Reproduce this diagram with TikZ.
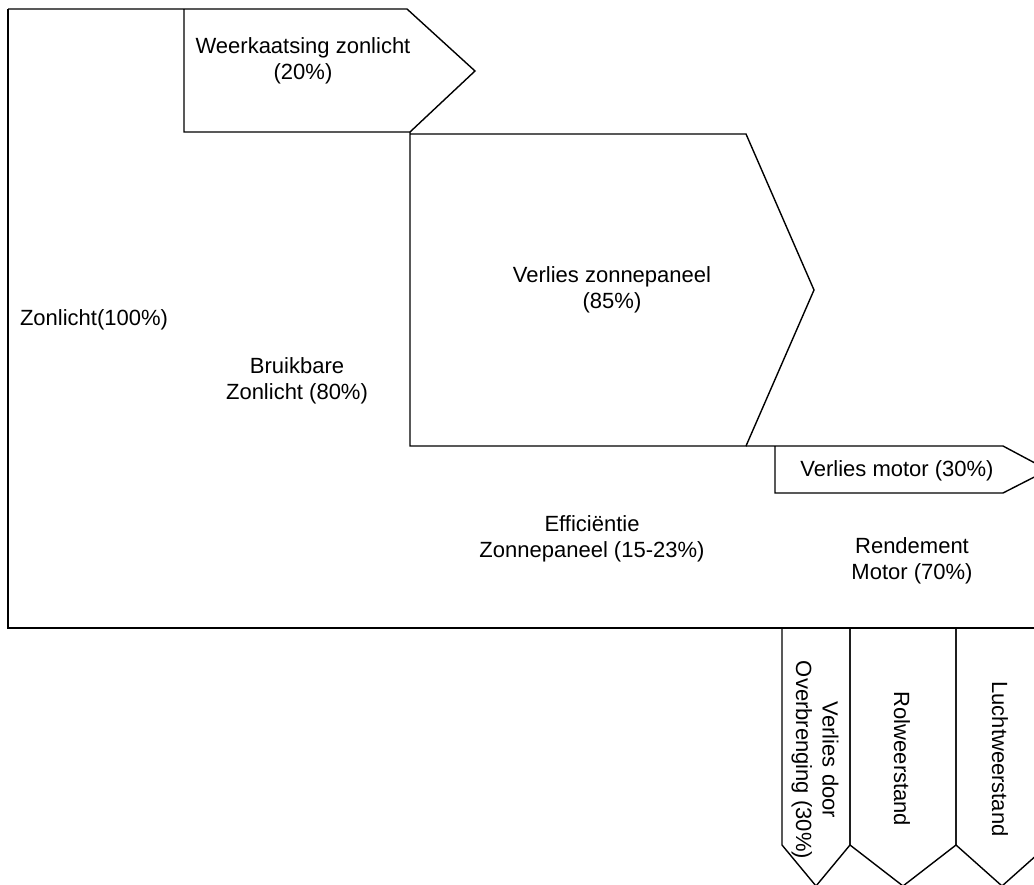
\documentclass[tikz,border=0pt]{standalone}
\usepackage{fontspec}
\setmainfont{Liberation Sans}
\tikzset{
  lbl/.style={align=center, inner sep=0pt, font=\fontsize{22}{26.5}\selectfont},
  vlbl/.style={lbl, rotate=-90}
}
\begin{document}
\begin{tikzpicture}[x=1pt, y=-1pt, line width=1.4pt]
\useasboundingbox (0,0) rectangle (1034,885);
\clip (0,0) rectangle (1034,885);
\draw (8,9) -- (407,9) -- (475,71) -- (410,132) -- (184,132) -- (184,9) ;
\draw (8,9) -- (8,628) -- (1048,628) ;
\draw (410,132) -- (410,446) -- (746,446) -- (814,290) -- (746,134) -- (410,134) ;
\draw (746,446) -- (1003,446) -- (1048,470) -- (1003,493) -- (775,493) -- (775,446) ;
\foreach \l/\r in {782/850, 850/956, 956/1048}
  \draw (\l,628) -- (\l,845) -- ({(\l+\r)/2},886) -- (\r,845) -- (\r,628) ;
\node[lbl] (zon) at (94,320) {Zonlicht(100\%)} ;
\node[lbl] (bruik) at (297,381) {Bruikbare\\Zonlicht (80\%)} ;
\node[lbl] (weer) at (303,61) {Weerkaatsing zonlicht\\(20\%)} ;
\node[lbl] (vzp) at (612,290) {Verlies zonnepaneel\\(85\%)} ;
\node[lbl] (eff) at (592,539) {Efficiëntie\\Zonnepaneel (15-23\%)} ;
\node[lbl] (vmot) at (897,471) {Verlies motor (30\%)} ;
\node[lbl] (rend) at (912,561) {Rendement\\Motor (70\%)} ;
\node[vlbl] (overbr) at (815,760) {Verlies door\\Overbrenging (30\%)} ;
\node[vlbl] (rol) at (902,759) {Rolweerstand} ;
\node[vlbl] (lucht) at (1000,759) {Luchtweerstand} ;
\end{tikzpicture}
\end{document}
